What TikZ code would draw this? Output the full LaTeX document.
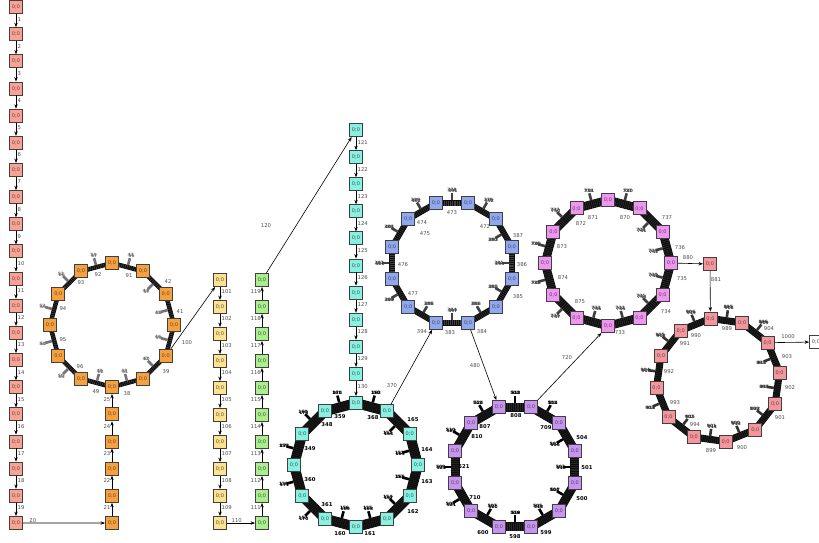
\documentclass[tikz,border=0pt]{standalone}
\usepackage{fontspec}
\setmainfont{DejaVu Sans}
\usetikzlibrary{arrows.meta,backgrounds}
\definecolor{csalmon}{HTML}{FCA294}
\definecolor{corange}{HTML}{F8A03C}
\definecolor{cyellow}{HTML}{FFE28E}
\definecolor{cgreen}{HTML}{A9EF8B}
\definecolor{ccyan}{HTML}{86F2E2}
\definecolor{cblue}{HTML}{8FA8F2}
\definecolor{cpurple}{HTML}{C893F2}
\definecolor{cviolet}{HTML}{F195F2}
\definecolor{cpink}{HTML}{F6959B}
\tikzset{
  box/.style={draw=black!75, line width=0.9pt, minimum size=13pt, inner sep=0pt,
    font=\fontsize{5}{6}\selectfont, text=black!70},
  elab/.style={font=\fontsize{5.3}{6}\selectfont, text=black!70, inner sep=0.4pt},
  blab/.style={font=\bfseries\fontsize{5.3}{6}\selectfont, text=black, inner sep=0.4pt},
  conn/.style={-{Stealth[length=4.5pt,width=3.4pt]}, line width=0.6pt, draw=black},
  garb/.style={font=\bfseries\fontsize{4.4}{5}\selectfont, inner sep=0pt},
}
\newcommand{\ringnodes}[6]{%
 \foreach \k in {0,...,11}{%
   \pgfmathsetmacro\ang{#5-30*\k}%
   \node[box, fill=#6] (#1\k) at ({#2+#4*cos(\ang)},{#3-#4*sin(\ang)}) {0;0};%
 }%
}
% #1 prefix #2 cx #3 cy #4 r #5 start angle #6 bundle width (number) #7 garble base #8 garble colour #9 hatch colour
\newcommand{\ringbundles}[9]{%
 \begin{pgfonlayer}{background}
 \foreach \k in {0,...,11}{%
   \pgfmathtruncatemacro\nx{mod(\k+1,12)}%
   \pgfmathsetmacro\am{#5-30*\k-15}%
   \pgfmathsetmacro\sc{-cos(\am)+sin(\am)}%
   \pgfmathsetmacro\sg{(\sc>0.01) ? 1 : ((\sc<-0.01) ? -1 : ((cos(\am)<0) ? 1 : -1))}%
   \pgfmathsetmacro\mx{#2+0.966*#4*cos(\am)}%
   \pgfmathsetmacro\my{#3-0.966*#4*sin(\am)}%
   \pgfmathsetmacro\nxv{(\sg)*cos(\am)}%
   \pgfmathsetmacro\nyv{-1*(\sg)*sin(\am)}%
   \pgfmathtruncatemacro\ga{#7+\k}%
   \pgfmathtruncatemacro\gb{#7+\k+13}%
   \draw[line width=#6pt, black!95] (#1\k.center) -- (#1\nx.center);%
   \draw[line width=#6pt-1pt, #9, dash pattern=on 0.35pt off 1.6pt] (#1\k.center) -- (#1\nx.center);%
   \draw[line width=2.6pt, #8] ({\mx+(#6/2)*(\nxv)},{\my+(#6/2)*(\nyv)}) -- ({\mx+(#6/2+7)*(\nxv)},{\my+(#6/2+7)*(\nyv)});%
   \node[garb, text=#8] (#1g\k) at ({\mx+(#6/2+10)*(\nxv)},{\my+(#6/2+10)*(\nyv)}) {\ga};%
   \node[garb, text=#8] (#1h\k) at ({\mx+(#6/2+10)*(\nxv)+0.9},{\my+(#6/2+10)*(\nyv)+0.7}) {\gb};%
 }%
 \end{pgfonlayer}%
}
\begin{document}
\begin{tikzpicture}[x=1pt,y=-1pt]
\useasboundingbox (0,0) rectangle (819,542);

% ---------- column 1 (salmon) ----------
\foreach \i in {1,...,20}{\node[box, fill=csalmon] (a\i) at (16,{7+27.158*(\i-1)}) {0;0};}
\foreach \i in {1,...,19}{\pgfmathtruncatemacro\j{\i+1}
  \draw[conn] (a\i) -- (a\j) node[elab, midway, anchor=west, xshift=1pt, yshift=1.5pt] (la\i) {\i};}

% ---------- orange column ----------
\foreach \i in {1,...,5}{\node[box, fill=corange] (b\i) at (112,{523-27.158*(\i-1)}) {0;0};}

% ---------- rings: nodes ----------
\ringnodes{o}{112}{325}{62}{90}{corange}
\ringnodes{c}{356}{465}{62}{90}{ccyan}
\ringnodes{u}{452}{263}{62}{105}{cblue}
\ringnodes{p}{515}{467}{62}{105}{cpurple}
\ringnodes{v}{608}{263}{63}{90}{cviolet}
\ringnodes{r}{718}{380}{62}{97}{cpink}

% ---------- rings: bundles ----------
\ringbundles{o}{112}{325}{62}{90}{4.5}{43}{black!55}{black!65}
\ringbundles{c}{356}{465}{62}{90}{10}{150}{black}{black!85}
\ringbundles{u}{452}{263}{62}{105}{6}{378}{black!75}{black!75}
\ringbundles{p}{515}{467}{62}{105}{9}{500}{black}{black!85}
\ringbundles{v}{608}{263}{63}{90}{8.5}{727}{black!75}{black!75}
\ringbundles{r}{718}{380}{62}{97}{7}{895}{black!80}{black!80}

% ---------- orange column edges ----------
\draw[conn] (a20) -- (b1) node[elab, pos=0.12, above] (l20) {20};
\foreach \i/\n in {1/21,2/22,3/23,4/24}{\pgfmathtruncatemacro\j{\i+1}
  \draw[conn] (b\i) -- (b\j) node[elab, midway, anchor=east, xshift=-1pt, yshift=1.5pt] (lb\i) {\n};}
\draw[conn] (b5) -- (o6) node[elab, midway, anchor=east, xshift=-1pt, yshift=1.5pt] (l25) {25};

% ---------- yellow column ----------
\foreach \i in {1,...,10}{\node[box, fill=cyellow] (y\i) at (220,{280+27.0*(\i-1)}) {0;0};}
\foreach \i/\n in {1/101,2/102,3/103,4/104,5/105,6/106,7/107,8/108,9/109}{\pgfmathtruncatemacro\j{\i+1}
  \draw[conn] (y\i) -- (y\j) node[elab, midway, anchor=west, xshift=1pt, yshift=1.5pt] (ly\i) {\n};}
\draw[conn] (o4) -- (y1);
\node[elab] (l100) at (187,343) {100};

% ---------- green column ----------
\foreach \i in {1,...,10}{\node[box, fill=cgreen] (g\i) at (262,{523-27.0*(\i-1)}) {0;0};}
\draw[conn] (y10) -- (g1) node[elab, pos=0.35, above] (l110) {110};
\foreach \i/\n in {1/111,2/112,3/113,4/114,5/115,6/116,7/117,8/118,9/119}{\pgfmathtruncatemacro\j{\i+1}
  \draw[conn] (g\i) -- (g\j) node[elab, midway, anchor=east, xshift=-0.5pt, yshift=1.5pt] (lg\i) {\n};}

% ---------- cyan column ----------
\foreach \i in {1,...,10}{\node[box, fill=ccyan] (k\i) at (356,{130+27.1*(\i-1)}) {0;0};}
\draw[conn] (g10) -- (k1);
\node[elab] (l120) at (266,226) {120};
\foreach \i/\n in {1/121,2/122,3/123,4/124,5/125,6/126,7/127,8/128,9/129}{\pgfmathtruncatemacro\j{\i+1}
  \draw[conn] (k\i) -- (k\j) node[elab, midway, anchor=west, xshift=1pt, yshift=1.5pt] (lk\i) {\n};}
\draw[conn] (k10) -- (c0) node[elab, midway, anchor=west, xshift=1pt, yshift=1.5pt] (l130) {130};

% ---------- long connectors between rings ----------
\draw[conn] (c1) -- (u7);
\node[elab] (l370) at (392,386) {370};
\draw[conn] (u6) -- (p0);
\node[elab] (l480) at (475,366) {480};
\draw[conn] (p1) -- (v6);
\node[elab] (l720) at (567,358) {720};
\node[box, fill=cpink] (s1) at (710,264) {0;0};
\draw[conn] (v3) -- (s1);
\node[elab] (l880) at (688,258) {880};
\draw[conn] (s1) -- (r0);
\node[elab] (l881) at (716,280) {881};
\node[box, fill=white] (w1) at (816,342) {0;0};
\draw[conn] (r2) -- (w1);
\node[elab] (l1000) at (788,337) {1000};

% ---------- ring labels ----------
\foreach \x/\y/\t [count=\n] in {98/275/92,129/276/91,168/282/42,180/312/41,166/372/39,127/394/38,96/392/49,80/367/96,63/340/95,63/309/94,81/283/93}
  {\node[elab] (lo\n) at (\x,\y) {\t};}
\foreach \x/\y/\t [count=\n] in {340/417/359,327/425/348,373/418/368,413/420/165,310/449/349,427/450/164,310/480/360,427/482/163,327/505/361,413/512/162,340/534/160,370/534/161}
  {\node[blab] (lc\n) at (\x,\y) {\t};}
\foreach \x/\y/\t [count=\n] in {452/213/473,422/223/474,485/227/472,425/234/475,518/236/387,403/265/476,522/265/386,413/294/477,518/297/385,422/332/394,450/333/383,482/332/384}
  {\node[elab] (lu\n) at (\x,\y) {\t};}
\foreach \x/\y/\t [count=\n] in {516/416/808,485/427/807,546/428/709,477/437/810,582/438/504,464/467/521,587/468/501,475/498/710,582/499/500,483/533/600,515/537/598,546/533/599}
  {\node[blab] (lp\n) at (\x,\y) {\t};}
\foreach \x/\y/\t [count=\n] in {593/218/871,625/218/870,581/224/872,667/218/737,562/247/873,680/248/736,563/278/874,682/279/735,580/302/875,666/312/734,620/333/733}
  {\node[elab] (lv\n) at (\x,\y) {\t};}
\foreach \x/\y/\t [count=\n] in {696/336/990,727/329/989,769/329/904,685/344/991,787/357/903,669/372/992,790/388/902,675/403/993,780/418/901,695/425/994,711/451/899,742/448/900}
  {\node[elab] (lr\n) at (\x,\y) {\t};}
\end{tikzpicture}
\end{document}
